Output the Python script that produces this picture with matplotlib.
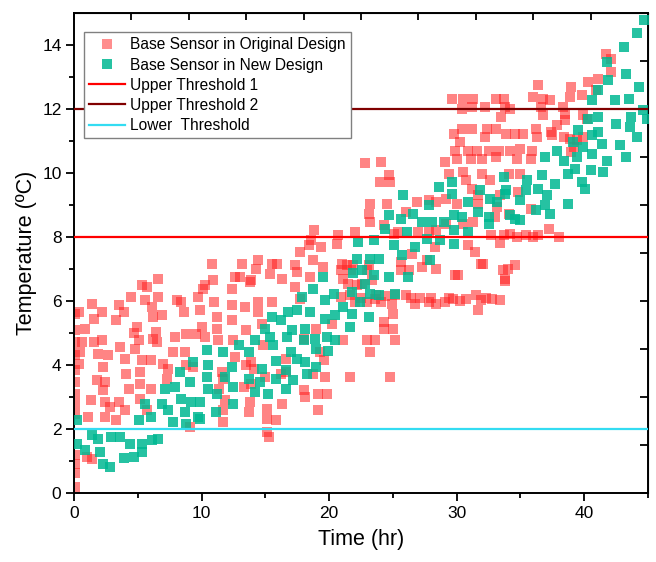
import numpy as np
import matplotlib
matplotlib.use("Agg")
from matplotlib import pyplot as plt
from matplotlib.lines import Line2D

# (time in hr, temperature in degC)
original_design = [
    (0.1, 0.19), (0.1, 0.61), (0.1, 0.92), (0.1, 1.18), (0.1, 2.48), (0.1, 2.79), (0.1, 3.1),
    (0.1, 3.47), (0.1, 3.83), (0.1, 4.3), (0.1, 4.72), (0.1, 5.08), (0.1, 5.6),
    (0.4, 5.66), (0.6, 4.72), (0.5, 4.4), (0.4, 4.04), (0.9, 5.14), (1.4, 5.92), (1.0, 1.13),
    (1.4, 1.05), (1.3, 2.9), (1.1, 2.38), (1.6, 5.45), (1.6, 4.72), (1.8, 3.52), (1.9, 4.35),
    (2.2, 5.66), (2.2, 4.77), (2.3, 3.94), (2.4, 2.84), (2.4, 2.38), (2.4, 3.47), (2.7, 4.3),
    (2.8, 2.69), (3.3, 5.4), (3.5, 5.87), (3.6, 4.56), (3.5, 2.84), (3.3, 2.27), (3.9, 5.66),
    (4.0, 4.2), (4.1, 3.73), (4.0, 2.58), (4.3, 3.26), (4.5, 6.13), (4.7, 5.0), (4.8, 4.51),
    (4.9, 5.2), (5.1, 4.77), (5.2, 3.78), (5.2, 3.42), (5.2, 2.95), (5.3, 6.49), (5.6, 6.02),
    (5.7, 6.44), (6.1, 5.81), (6.2, 5.5), (6.0, 4.15), (5.3, 4.15), (6.2, 4.82), (6.5, 4.72),
    (6.6, 6.7), (6.6, 6.13), (6.4, 5.04), (6.9, 5.55), (7.0, 4.04), (7.4, 3.89), (7.8, 4.41),
    (7.9, 4.87), (8.1, 6.02), (8.4, 5.97), (8.6, 5.66), (8.8, 4.98), (8.7, 4.41), (8.8, 3.99),
    (9.6, 4.98), (9.7, 6.13), (9.9, 5.71), (10.3, 6.49), (10.0, 5.19), (9.3, 3.94), (9.1, 2.07),
    (7.3, 3.57), (6.0, 3.26), (2.3, 3.21), (5.7, 2.58),
    (10.8, 7.17), (10.9, 6.65), (10.1, 6.38), (11.0, 5.97), (11.2, 5.5), (11.2, 5.14), (10.3, 4.87),
    (11.3, 4.77), (11.6, 3.78), (11.7, 3.57), (11.4, 3.26), (11.8, 2.9), (11.7, 2.58), (11.7, 2.22),
    (12.4, 6.38), (12.4, 5.87), (12.4, 5.4), (12.5, 4.77), (12.6, 4.25), (12.6, 6.75), (13.2, 7.17),
    (13.0, 6.75), (13.4, 5.81), (13.5, 5.09), (13.8, 6.59), (13.9, 4.09), (14.1, 3.89), (13.9, 3.42),
    (13.8, 2.85), (13.7, 2.53), (14.4, 7.27), (14.3, 7.0), (14.4, 5.97), (14.4, 5.66), (14.7, 5.29),
    (14.8, 4.61), (15.1, 2.64), (15.1, 2.32), (15.1, 1.9), (15.3, 1.75), (15.0, 3.62), (15.4, 6.85),
    (15.5, 7.17), (15.8, 2.27), (15.5, 5.97), (15.9, 7.17), (16.3, 6.7), (16.3, 2.79), (16.2, 3.73),
    (16.6, 4.19), (16.6, 3.78), (17.3, 7.12), (17.5, 6.91), (17.3, 6.44), (17.7, 7.53), (17.7, 6.07),
    (18.0, 3.21), (18.1, 3.0), (18.5, 6.75), (18.7, 7.27), (19.0, 5.14), (19.1, 3.1), (19.1, 2.58),
    (19.4, 7.69), (19.5, 7.06), (19.7, 3.62), (19.8, 3.1), (20.2, 5.29), (18.7, 3.73), (18.4, 7.74),
    (13.3, 3.31), (13.5, 3.99), (13.9, 6.65), (18.8, 8.21), (18.6, 7.9), (20.7, 8.05), (20.6, 7.79),
    (19.3, 4.41), (19.6, 4.15), (18.0, 4.82),
    (21.0, 7.17), (20.9, 6.96), (21.1, 6.7), (21.4, 7.12), (21.5, 6.54), (21.7, 6.96), (22.0, 8.16),
    (22.2, 6.49), (22.6, 6.54), (23.0, 6.96), (23.1, 8.73), (23.2, 9.04), (23.2, 8.47), (23.1, 7.12),
    (23.4, 6.65), (23.6, 6.07), (23.0, 5.97), (24.1, 5.97), (24.3, 5.34), (24.3, 5.14), (25.0, 5.14),
    (25.0, 5.6), (23.0, 4.77), (23.6, 4.77), (25.2, 4.77), (23.2, 4.41), (21.6, 3.62), (24.8, 3.62),
    (21.1, 4.77), (24.0, 9.72), (24.7, 9.93), (24.8, 9.72), (24.5, 9.04), (24.3, 8.37), (25.1, 8.1),
    (25.4, 8.16), (25.6, 7.22), (25.6, 6.96), (26.3, 6.96), (26.0, 8.78), (26.5, 7.48), (26.9, 9.09),
    (27.0, 8.16), (27.3, 7.06), (27.7, 7.27), (27.8, 9.15), (27.8, 8.16), (28.4, 8.21), (28.3, 7.69),
    (28.4, 9.09), (21.9, 7.12), (22.8, 10.3), (24.1, 10.34), (28.4, 7.0),
    (20.9, 6.13), (21.6, 6.18), (22.0, 5.97), (22.5, 6.1), (23.7, 6.18), (24.4, 6.15), (24.9, 5.92),
    (25.2, 6.18), (26.0, 6.18), (26.4, 6.1), (26.7, 5.92), (27.1, 6.08), (27.8, 5.97), (28.0, 6.08),
    (28.4, 5.92), (29.1, 5.97), (29.4, 6.1), (29.7, 6.05), (30.3, 6.0), (30.7, 6.05), (31.5, 6.18),
    (31.9, 6.02), (31.7, 5.71), (32.3, 6.1), (32.8, 6.05), (33.4, 6.02), (33.8, 6.64), (33.6, 6.96),
    (30.1, 6.8),
    (36.4, 12.74), (36.0, 12.37), (36.8, 12.32), (29.6, 12.32), (30.5, 12.32), (31.3, 12.32),
    (31.2, 12.06), (30.4, 12.01), (32.2, 12.06), (33.1, 12.32), (33.7, 12.32), (33.8, 12.06),
    (33.5, 11.75), (34.2, 12.01), (36.6, 12.06), (29.8, 11.23), (30.4, 11.39), (31.2, 11.39),
    (32.2, 11.12), (32.4, 11.39), (33.1, 11.39), (33.9, 11.23), (34.6, 11.23), (35.2, 11.23),
    (36.2, 11.39), (36.3, 11.12), (30.3, 10.96), (29.9, 10.7), (30.9, 10.7), (31.6, 10.7),
    (32.5, 10.7), (33.3, 10.7), (34.2, 10.7), (35.0, 10.76), (35.9, 10.7), (30.0, 10.44),
    (31.1, 10.44), (32.0, 10.44), (33.1, 10.5), (34.7, 10.44), (35.8, 10.44), (29.1, 10.34),
    (30.5, 10.03), (32.0, 9.98), (34.1, 9.98), (35.0, 9.98), (30.7, 9.77), (29.4, 9.98),
    (32.6, 9.77), (31.2, 9.51), (35.8, 8.89), (29.2, 9.2), (30.0, 9.04), (31.7, 9.3), (31.7, 9.04),
    (33.2, 8.94), (33.4, 9.3), (34.8, 9.41), (31.3, 8.47), (33.0, 8.63), (34.1, 8.73), (29.2, 8.42),
    (30.5, 8.42), (32.7, 8.05), (33.4, 7.8), (33.7, 8.05), (34.2, 8.1), (34.7, 8.0), (35.4, 8.05),
    (36.0, 8.0), (36.4, 8.05), (30.9, 7.74), (31.4, 7.53), (31.9, 7.17), (32.1, 7.17), (33.8, 6.69),
    (34.0, 7.0), (34.6, 7.11), (29.9, 6.8),
    (36.8, 11.8), (37.2, 8.26), (41.7, 13.73), (42.1, 13.57), (42.1, 13.16), (41.1, 12.95),
    (40.3, 12.84), (40.9, 12.58), (39.8, 12.43), (39.0, 12.69), (38.9, 12.38), (38.3, 12.06),
    (38.5, 11.85), (38.5, 11.65), (37.9, 11.49), (37.4, 11.28), (37.5, 11.18), (38.4, 11.12),
    (38.9, 11.07), (39.2, 10.81), (39.0, 10.65), (39.9, 11.8), (40.2, 11.7), (39.9, 11.12),
    (39.4, 11.02), (37.3, 12.27), (38.0, 8.0),
]

new_design = [
    (0.2, 2.27), (0.25, 1.54), (0.86, 1.35), (1.4, 1.8), (1.9, 1.7), (2.0, 1.28), (2.3, 0.92),
    (2.8, 0.81), (2.9, 1.75), (3.6, 1.75), (3.9, 1.08), (4.4, 1.54), (4.7, 1.13), (5.1, 2.27),
    (5.3, 1.54), (5.3, 1.28), (5.6, 2.79), (6.0, 2.38), (6.1, 1.65), (6.6, 1.7), (6.9, 2.79),
    (7.1, 3.26), (7.4, 2.58), (7.8, 2.22), (7.9, 3.31), (8.3, 3.78), (8.4, 2.95), (8.7, 2.53),
    (9.1, 3.47), (9.2, 2.84), (9.3, 4.09), (8.8, 2.17), (9.7, 2.38), (10.4, 4.46), (10.4, 3.62),
    (9.9, 2.85), (9.9, 2.32), (10.5, 3.99), (10.5, 3.26), (11.1, 2.53), (11.2, 3.1), (11.7, 4.4),
    (11.8, 3.62), (12.4, 3.94), (12.5, 3.31), (12.5, 2.79), (12.9, 4.61), (13.7, 4.4), (13.7, 3.57),
    (14.2, 4.77), (14.2, 3.15), (14.6, 3.47), (14.7, 3.89), (15.0, 5.14), (15.2, 3.1), (15.4, 4.87),
    (15.5, 5.5), (15.6, 4.61), (15.8, 4.14), (15.8, 3.57), (16.2, 5.4), (16.6, 3.83), (16.6, 3.26),
    (16.7, 4.87), (16.8, 5.66), (17.1, 5.09), (17.0, 4.4), (17.2, 3.52), (17.5, 5.71), (17.5, 4.19),
    (17.9, 6.12), (18.0, 4.77), (18.1, 5.14), (18.1, 4.09), (18.3, 3.73), (18.5, 5.66), (18.7, 6.38),
    (18.9, 4.82), (19.0, 4.51), (19.0, 3.94), (19.5, 6.75), (19.7, 6.02), (19.7, 5.45), (19.8, 4.87),
    (19.9, 4.45), (20.4, 6.22), (20.5, 5.55), (20.5, 4.77),
    (21.1, 5.81), (21.6, 5.18), (21.8, 6.28), (21.9, 6.86), (21.8, 5.6), (22.2, 7.32), (22.4, 5.97),
    (22.6, 6.96), (22.8, 6.54), (23.1, 5.5), (23.2, 7.32), (23.2, 6.23), (23.5, 6.8), (23.9, 6.18),
    (23.9, 7.32), (22.3, 7.85), (23.5, 7.9), (24.7, 6.75), (24.4, 8.26), (24.7, 8.68), (25.1, 7.74),
    (25.2, 6.23), (25.6, 8.57), (25.8, 9.3), (25.7, 7.43), (26.1, 8.16), (26.2, 6.75), (26.6, 8.73),
    (26.7, 7.69), (27.3, 8.47), (27.7, 7.95), (27.9, 7.27), (27.8, 8.99), (28.1, 8.47), (28.6, 9.56),
    (28.7, 7.9),
    (29.0, 8.47), (29.6, 9.72), (29.6, 9.35), (29.8, 8.68), (29.8, 7.79), (29.8, 8.21), (30.4, 8.63),
    (30.9, 9.09), (30.9, 8.16), (31.7, 8.78), (31.8, 9.46), (32.5, 8.63), (32.5, 8.42), (32.6, 9.2),
    (33.2, 9.09), (33.7, 9.88), (33.8, 9.35), (33.9, 9.46), (34.2, 8.68), (34.6, 8.57), (35.0, 9.15),
    (35.0, 8.52), (35.4, 9.46), (35.5, 9.77), (36.2, 8.83), (36.4, 9.51), (36.7, 9.93), (36.9, 10.5),
    (36.9, 8.99), (37.1, 9.3), (37.3, 8.73),
    (44.7, 14.77), (44.1, 14.36), (43.1, 13.94), (41.8, 13.47), (43.3, 13.08), (41.9, 12.9),
    (44.3, 12.69), (41.1, 12.58), (40.6, 12.27), (42.4, 12.27), (43.5, 12.32), (44.6, 11.96),
    (44.9, 11.7), (40.3, 11.7), (41.1, 11.75), (42.5, 11.54), (43.7, 11.75), (43.6, 11.44),
    (39.5, 11.33), (41.1, 11.28), (40.6, 11.18), (44.1, 11.12), (39.1, 10.97), (39.9, 10.81),
    (41.4, 10.91), (42.8, 10.86), (37.9, 10.7), (39.4, 10.49), (40.6, 10.6), (41.8, 10.39),
    (43.3, 10.49), (38.4, 10.39), (38.7, 9.98), (39.3, 10.13), (40.5, 10.08), (41.5, 10.03),
    (37.7, 9.66), (39.8, 9.72), (40.1, 9.51), (38.7, 9.04),
]

thresholds = [8, 12, 2]
threshold_labels = ["Upper Threshold 1", "Upper Threshold 2", "Lower  Threshold"]
threshold_colors = ["#ff0000", "#800000", "#33dcf2"]

red_color = "#ff1f1f"
green_color = "#00b892"

plt.rcParams["font.family"] = ["Liberation Sans", "DejaVu Sans"]

fig = plt.figure(figsize=(6.56, 5.62), dpi=100)
ax = fig.add_axes([74 / 656, 69 / 562, 574 / 656, 480 / 562])

orig = np.array(original_design)
new = np.array(new_design)
ax.scatter(orig[:, 0], orig[:, 1], marker="s", s=58, color=red_color, alpha=0.55,
           linewidths=0, zorder=2)
ax.scatter(new[:, 0], new[:, 1], marker="s", s=58, color=green_color, alpha=0.85,
           linewidths=0, zorder=3)

for y, c in zip(thresholds, threshold_colors):
    ax.axhline(y, color=c, lw=1.6, zorder=4)

ax.set_xlim(0, 45)
ax.set_ylim(0, 15)
ax.set_xticks([0, 10, 20, 30, 40])
ax.set_xticks([5, 15, 25, 35, 45], minor=True)
ax.set_yticks([0, 2, 4, 6, 8, 10, 12, 14])
ax.set_yticks(np.arange(1, 15, 2), minor=True)
ax.tick_params(which="major", direction="out", length=6, width=1.3, labelsize=12.5, pad=3)
ax.tick_params(which="minor", direction="out", length=3.5, width=1.3)
for sp in ax.spines.values():
    sp.set_linewidth(1.4)

# mirror ticks on top/right point inwards and use their own spacing
top = ax.secondary_xaxis("top")
top.set_xticks(np.arange(0, 45.1, 4.5))
top.tick_params(direction="in", length=5, width=1.3, labeltop=False)
right = ax.secondary_yaxis("right")
right.set_yticks(np.arange(0, 15.1, 1.5))
right.tick_params(direction="in", length=6, width=1.3, labelright=False)

ax.set_xlabel("Time (hr)", fontsize=15.5, labelpad=6)
ax.set_ylabel("Temperature (ºC)", fontsize=15.5, labelpad=4)

handles = [
    Line2D([], [], marker="s", ls="none", color=red_color, alpha=0.5, markersize=7.5,
           markeredgewidth=0),
    Line2D([], [], marker="s", ls="none", color=green_color, alpha=0.85, markersize=7.5,
           markeredgewidth=0),
]
handles += [Line2D([], [], color=c, lw=1.6) for c in threshold_colors]
labels = ["Base Sensor in Original Design", "Base Sensor in New Design"] + threshold_labels
leg = ax.legend(handles, labels, loc="upper left", bbox_to_anchor=(0.0174, 0.9604),
                borderaxespad=0, fontsize=11.2, frameon=True, fancybox=False,
                edgecolor="#808080", framealpha=1, handlelength=2.3, handletextpad=0.3,
                labelspacing=0.33, borderpad=0.35)
leg.get_frame().set_linewidth(1.0)
leg.set_zorder(10)

fig.savefig("out.png", dpi=100)
